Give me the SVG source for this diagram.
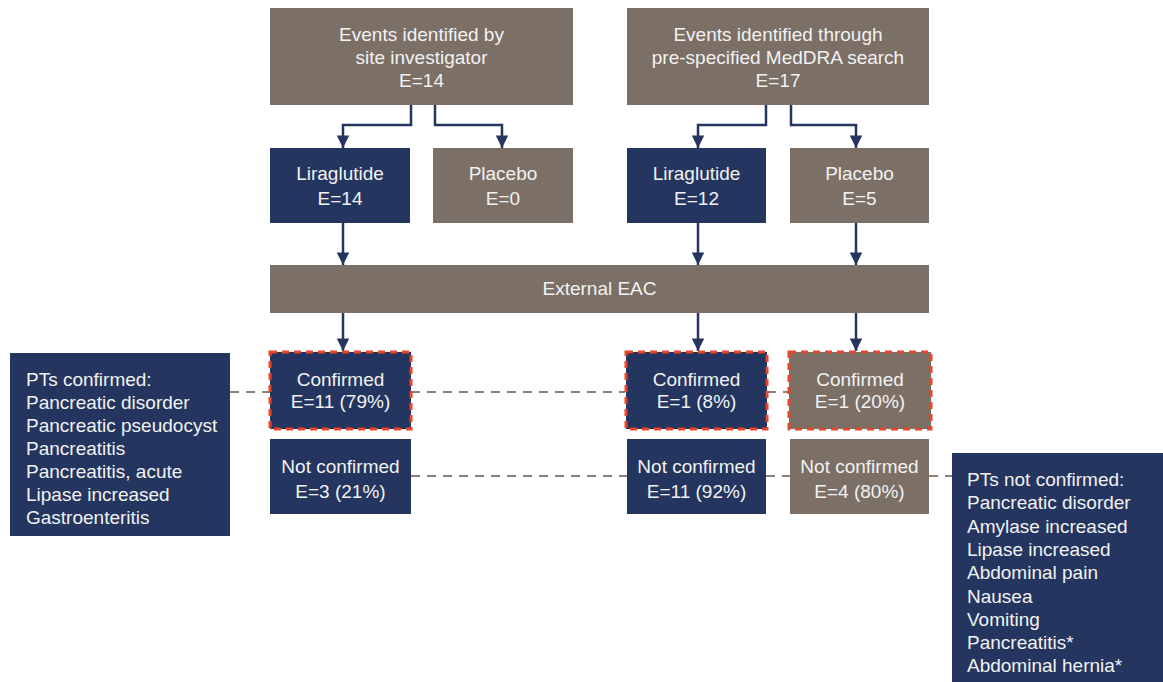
<svg xmlns="http://www.w3.org/2000/svg" width="1163" height="682" viewBox="0 0 1163 682">
<defs>
<style>
.b{fill:#7b6f66}
.n{fill:#24355f}
.red{stroke:#e4472a;stroke-width:3;stroke-dasharray:7 5;fill:none}
.t{font-family:"Liberation Sans",Arial,sans-serif;font-size:19px;fill:#f2f2f2;text-anchor:middle}
.l{font-family:"Liberation Sans",Arial,sans-serif;font-size:19px;fill:#f2f2f2}
.c{stroke:#24355f;stroke-width:2.5;fill:none;marker-end:url(#ah)}
.d{stroke:#8a8078;stroke-width:2;stroke-dasharray:9 7;fill:none}
</style>
<marker id="ah" viewBox="0 0 10 10" refX="10" refY="5" markerWidth="5.5" markerHeight="5" markerUnits="strokeWidth" orient="auto">
<path d="M0,0 L10,5 L0,10 z" fill="#24355f"/>
</marker>
</defs>
<rect width="1163" height="682" fill="#ffffff"/>
<g id="dashed">
<path class="d" d="M230,392 H270 M411,392 H625 M767,392 H788"/>
<path class="d" d="M411,476 H627 M766,476 H790 M929,476 H952"/>
</g>
<g id="connectors">
<path class="c" d="M411,105 V125 H343 V148"/>
<path class="c" d="M435,105 V125 H502 V148"/>
<path class="c" d="M766,105 V125 H698 V148"/>
<path class="c" d="M791,105 V125 H856 V148"/>
<path class="c" d="M343,223 V265"/>
<path class="c" d="M698,223 V265"/>
<path class="c" d="M856,223 V265"/>
<path class="c" d="M343,313 V351"/>
<path class="c" d="M698,313 V351"/>
<path class="c" d="M856,313 V351"/>
</g>
<g id="src1">
<rect class="b" x="270" y="8" width="303" height="97"/>
<text class="t" x="421.5" y="41">Events identified by</text>
<text class="t" x="421.5" y="64">site investigator</text>
<text class="t" x="421.5" y="87">E=14</text>
</g>
<g id="src2">
<rect class="b" x="627" y="8" width="302" height="97"/>
<text class="t" x="778" y="41">Events identified through</text>
<text class="t" x="778" y="64">pre-specified MedDRA search</text>
<text class="t" x="778" y="87">E=17</text>
</g>
<g id="lira1">
<rect class="n" x="270" y="148" width="140" height="75"/>
<text class="t" x="340" y="180">Liraglutide</text>
<text class="t" x="340" y="205">E=14</text>
</g>
<g id="plac1">
<rect class="b" x="433" y="148" width="140" height="75"/>
<text class="t" x="503" y="180">Placebo</text>
<text class="t" x="503" y="205">E=0</text>
</g>
<g id="lira2">
<rect class="n" x="627" y="148" width="139" height="75"/>
<text class="t" x="696.5" y="180">Liraglutide</text>
<text class="t" x="696.5" y="205">E=12</text>
</g>
<g id="plac2">
<rect class="b" x="790" y="148" width="139" height="75"/>
<text class="t" x="859.5" y="180">Placebo</text>
<text class="t" x="859.5" y="205">E=5</text>
</g>
<g id="eac">
<rect class="b" x="270" y="265" width="659" height="48"/>
<text class="t" x="599.5" y="295">External EAC</text>
</g>
<g id="conf1">
<rect class="n" x="270" y="352" width="141" height="77"/>
<rect class="red" x="270" y="352" width="141" height="77"/>
<text class="t" x="340.5" y="386">Confirmed</text>
<text class="t" x="340.5" y="408">E=11 (79%)</text>
</g>
<g id="conf2">
<rect class="n" x="626" y="352" width="141" height="77"/>
<rect class="red" x="626" y="352" width="141" height="77"/>
<text class="t" x="696.5" y="386">Confirmed</text>
<text class="t" x="696.5" y="408">E=1 (8%)</text>
</g>
<g id="conf3">
<rect class="b" x="789" y="352" width="142" height="77"/>
<rect class="red" x="789" y="352" width="142" height="77"/>
<text class="t" x="860" y="386">Confirmed</text>
<text class="t" x="860" y="408">E=1 (20%)</text>
</g>
<g id="nconf1">
<rect class="n" x="270" y="439" width="141" height="75"/>
<text class="t" x="340.5" y="473">Not confirmed</text>
<text class="t" x="340.5" y="498">E=3 (21%)</text>
</g>
<g id="nconf2">
<rect class="n" x="627" y="439" width="139" height="75"/>
<text class="t" x="696.5" y="473">Not confirmed</text>
<text class="t" x="696.5" y="498">E=11 (92%)</text>
</g>
<g id="nconf3">
<rect class="b" x="790" y="439" width="139" height="75"/>
<text class="t" x="859.5" y="473">Not confirmed</text>
<text class="t" x="859.5" y="498">E=4 (80%)</text>
</g>
<g id="ptconf">
<rect class="n" x="10" y="353" width="220" height="183"/>
<text class="l" x="26" y="386">PTs confirmed:</text>
<text class="l" x="26" y="409">Pancreatic disorder</text>
<text class="l" x="26" y="432">Pancreatic pseudocyst</text>
<text class="l" x="26" y="455">Pancreatitis</text>
<text class="l" x="26" y="478">Pancreatitis, acute</text>
<text class="l" x="26" y="501">Lipase increased</text>
<text class="l" x="26" y="524">Gastroenteritis</text>
</g>
<g id="ptnconf">
<rect class="n" x="952" y="453" width="211" height="229"/>
<text class="l" x="967" y="486">PTs not confirmed:</text>
<text class="l" x="967" y="509">Pancreatic disorder</text>
<text class="l" x="967" y="533">Amylase increased</text>
<text class="l" x="967" y="556">Lipase increased</text>
<text class="l" x="967" y="579">Abdominal pain</text>
<text class="l" x="967" y="603">Nausea</text>
<text class="l" x="967" y="626">Vomiting</text>
<text class="l" x="967" y="649">Pancreatitis*</text>
<text class="l" x="967" y="672">Abdominal hernia*</text>
</g>
</svg>
